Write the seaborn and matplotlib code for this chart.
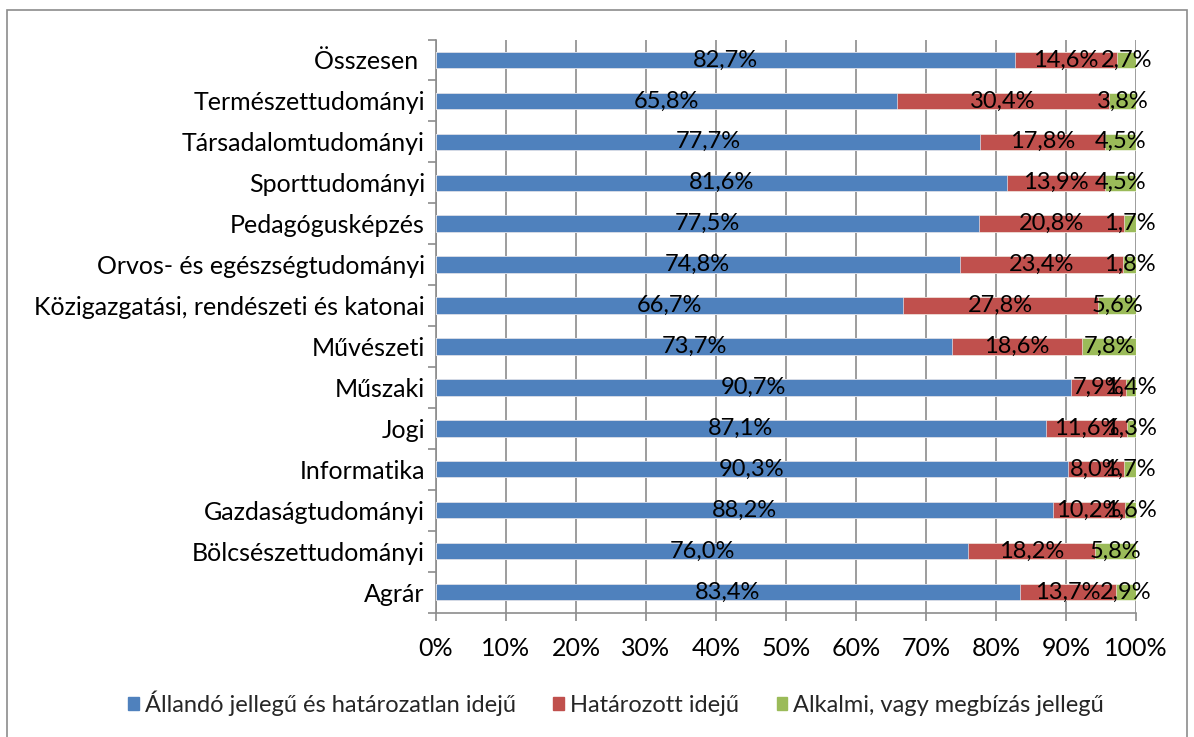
import matplotlib
matplotlib.use("Agg")
import matplotlib.pyplot as plt
import matplotlib.patches as mpatches
from matplotlib.ticker import FixedLocator, PercentFormatter
import numpy as np
import pandas as pd
import seaborn as sns

categories = [
    "Összesen ",
    "Természettudományi",
    "Társadalomtudományi",
    "Sporttudományi",
    "Pedagógusképzés",
    "Orvos- és egészségtudományi",
    "Közigazgatási, rendészeti és katonai",
    "Művészeti",
    "Műszaki",
    "Jogi",
    "Informatika",
    "Gazdaságtudományi",
    "Bölcsészettudományi",
    "Agrár",
]
allando = [82.7, 65.8, 77.7, 81.6, 77.5, 74.8, 66.7, 73.7, 90.7, 87.1, 90.3, 88.2, 76.0, 83.4]
hatarozott = [14.6, 30.4, 17.8, 13.9, 20.8, 23.4, 27.8, 18.6, 7.9, 11.6, 8.0, 10.2, 18.2, 13.7]
alkalmi = [2.7, 3.8, 4.5, 4.5, 1.7, 1.8, 5.6, 7.8, 1.4, 1.3, 1.7, 1.6, 5.8, 2.9]
series_names = [
    "Állandó jellegű és határozatlan idejű",
    "Határozott idejű",
    "Alkalmi, vagy megbízás jellegű",
]
colors = ["#4F81BD", "#C0504D", "#9BBB59"]

sns.set_theme(style="white")
plt.rcParams["font.family"] = ["Lato", "DejaVu Sans"]

df = pd.DataFrame({"cat": categories, "a": allando, "h": hatarozott, "k": alkalmi})
df["ah"] = df["a"] + df["h"]
df["total"] = df["ah"] + df["k"]

fig = plt.figure(figsize=(11.94, 7.37), dpi=100)
ax = fig.add_axes([436 / 1194, 1 - 612.5 / 737, 700 / 1194, 573 / 737])

# stacked bars: draw the cumulative totals back to front
for col, c in zip(["total", "ah", "a"], colors[::-1]):
    sns.barplot(data=df, x=col, y="cat", orient="h", color=c, width=0.4,
                saturation=1, ax=ax, edgecolor="white", linewidth=0.4, zorder=3)

# segment value labels
y = np.arange(len(categories))
for vals, starts in [(df["a"], 0 * df["a"]), (df["h"], df["a"]), (df["k"], df["ah"])]:
    for yi, v, s in zip(y, vals, starts):
        ax.text(s + v / 2, yi, f"{v:.1f}%".replace(".", ","), ha="center",
                va="center", fontsize=17, color="black", zorder=5)

gray = "#8c8c8c"
ax.set_xlim(0, 100)
ax.set_ylim(len(categories) - 0.5, -0.5)
ax.xaxis.set_major_locator(FixedLocator(np.arange(0, 101, 10)))
ax.xaxis.set_major_formatter(PercentFormatter(decimals=0))
ax.grid(axis="x", color=gray, linewidth=1.2, zorder=0)
ax.set_axisbelow(True)
ax.set_xlabel("")
ax.set_ylabel("")
ax.tick_params(axis="x", length=6, width=1.2, color=gray, labelsize=18, pad=12,
               labelcolor="black", bottom=True, direction="out")
ax.tick_params(axis="y", which="major", length=0, labelsize=18, pad=8, labelcolor="black")
ax.yaxis.set_minor_locator(FixedLocator(np.arange(-0.5, len(categories), 1)))
ax.tick_params(axis="y", which="minor", length=6, width=1.2, color=gray, left=True,
               direction="out")
for side in ["top", "right"]:
    ax.spines[side].set_visible(False)
for side in ["left", "bottom"]:
    ax.spines[side].set_color(gray)
    ax.spines[side].set_linewidth(1.2)

handles = [mpatches.Patch(color=c, label=n) for c, n in zip(colors, series_names)]
fig.legend(handles=handles, loc="center", bbox_to_anchor=(0.516, 1 - 703 / 737),
           ncol=3, frameon=False, fontsize=17, handlelength=0.45, handleheight=0.45,
           handletextpad=0.25, columnspacing=1.6)

# outer chart border
fig.patches.append(mpatches.Rectangle((7 / 1194, -0.01), 1180 / 1194, 1.01 - 10 / 737,
                                      transform=fig.transFigure, fill=False,
                                      edgecolor=gray, linewidth=1.2))

fig.savefig("out.png", dpi=100)
